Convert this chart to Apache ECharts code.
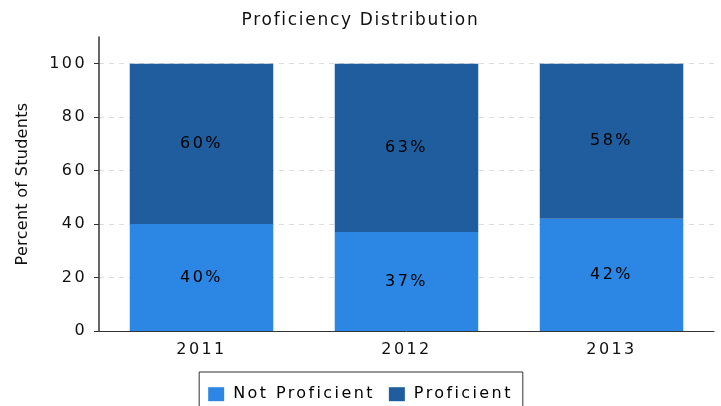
<!DOCTYPE html>
<html><head><meta charset="utf-8">
<script src="https://cdn.jsdelivr.net/npm/echarts@6/dist/echarts.min.js"></script>
<style>html,body{margin:0;padding:0;background:#fff}#c{width:721px;height:406px}</style>
</head><body><div id="c"></div>
<script>
const categories = ['2011', '2012', '2013'];
const notProficient = [40, 37, 42];
const proficient = [60, 63, 58];
const yTicks = [0, 20, 40, 60, 80, 100];

// emulate the wide letter spacing of the original renderer
(function () {
  const P = CanvasRenderingContext2D.prototype;
  if (!('letterSpacing' in P)) return;
  const ls = font => /Lato/.test(font) ? '1.7px' : (/Noto/.test(font) ? '0.3px' : '2.4px');
  const f = P.fillText, m = P.measureText;
  P.fillText = function (t, x, y, w) { this.letterSpacing = ls(this.font); return w === undefined ? f.call(this, t, x, y) : f.call(this, t, x, y, w); };
  P.measureText = function (t) { this.letterSpacing = ls(this.font); return m.call(this, t); };
})();

const chart = echarts.init(document.getElementById('c'), null, {renderer: 'canvas'});
const font = 'DejaVu Sans';
const lbl = {show: true, position: 'inside', color: '#000', fontFamily: font, fontSize: 16, formatter: p => p.value + '%'};
chart.setOption({
  animation: false,
  title: {text: 'Proficiency Distribution', left: 'center', top: 6,
    textStyle: {fontFamily: 'DejaVu Sans, Lato', fontWeight: 'normal', fontSize: 17, color: '#111'}},
  legend: {top: 372, left: 'center', itemWidth: 16, itemHeight: 14, itemGap: 14,
    borderColor: '#333', borderWidth: 1, borderRadius: 0, padding: [13, 10, 13, 9],
    textStyle: {fontFamily: font, fontSize: 16, color: '#000', padding: [0, 0, 0, 4]},
    data: [{name: 'Not Proficient', icon: 'rect'}, {name: 'Proficient', icon: 'rect'}]},
  grid: {left: 99, right: 7, top: 37, bottom: 75},
  xAxis: {type: 'category', data: categories,
    axisLine: {lineStyle: {color: '#333', width: 1}}, axisTick: {show: false},
    axisLabel: {fontFamily: font, fontSize: 16, color: '#111', margin: 10}},
  yAxis: {type: 'value', min: 0, max: 110, interval: 20,
    name: 'Percent of Students', nameLocation: 'middle', nameGap: 68, nameRotate: 90,
    nameTextStyle: {fontFamily: 'DejaVu Sans, Noto Sans', fontSize: 16, color: '#111'},
    axisLine: {show: true, lineStyle: {color: '#333', width: 1.5}},
    axisTick: {show: true, length: 5, lineStyle: {color: '#333'}, customValues: yTicks},
    axisLabel: {fontFamily: font, fontSize: 16, color: '#111', margin: 12, customValues: yTicks},
    splitLine: {show: true, lineStyle: {color: '#ddd', type: [5, 5]}}},
  series: [
    {name: 'Not Proficient', type: 'bar', stack: 's', data: notProficient, barCategoryGap: '30%',
      itemStyle: {color: '#2b87e3'}, label: lbl},
    {name: 'Proficient', type: 'bar', stack: 's', data: proficient, barCategoryGap: '30%',
      itemStyle: {color: '#1f5d9f'}, label: lbl}
  ]
});
</script></body></html>
